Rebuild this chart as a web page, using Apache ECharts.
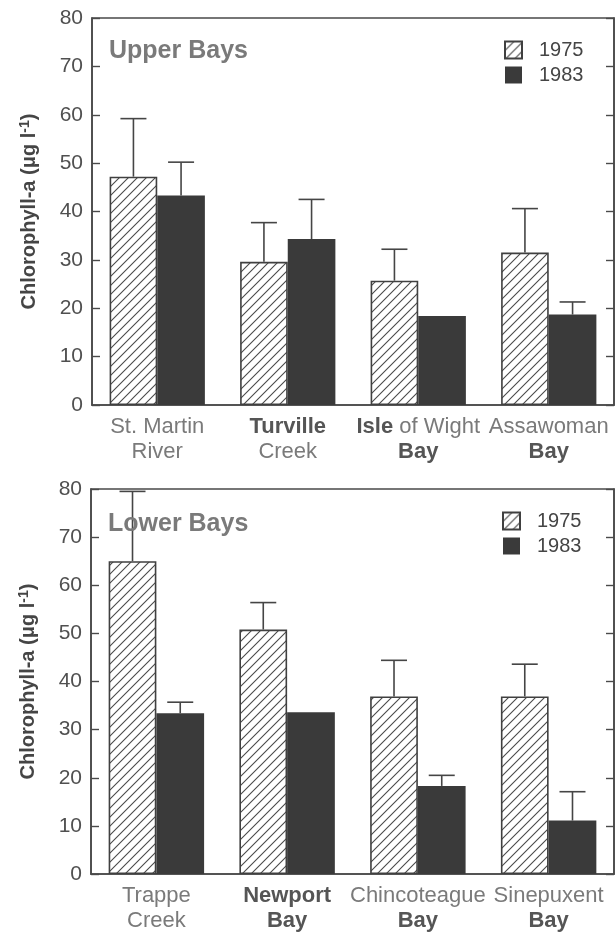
<!DOCTYPE html>
<html>
<head>
<meta charset="utf-8">
<script src="https://cdn.jsdelivr.net/npm/echarts@6/dist/echarts.min.js"></script>
<style>html,body{margin:0;padding:0;background:#fff;}#c{width:615px;height:933px;}</style>
</head>
<body>
<div id="c"></div>
<script>
// ---- data ----
const upperCategories = ['St. Martin\nRiver', 'Turville\nCreek', 'Isle of Wight\nBay', 'Assawoman\nBay'];
const upperBoldWords = ['Turville', 'Isle', 'Bay'];
const upper1975 = [47.2, 29.6, 25.7, 31.5];
const upper1983 = [43.3, 34.3, 18.4, 18.7];
const upper1975ErrTop = [59.2, 37.7, 32.2, 40.6];
const upper1983ErrTop = [50.2, 42.5, null, 21.3];

const lowerCategories = ['Trappe\nCreek', 'Newport\nBay', 'Chincoteague\nBay', 'Sinepuxent\nBay'];
const lowerBoldWords = ['Newport', 'Bay'];
const lower1975 = [65.0, 50.8, 36.9, 36.9];
const lower1983 = [33.4, 33.6, 18.3, 11.1];
const lower1975ErrTop = [79.5, 56.4, 44.4, 43.6];
const lower1983ErrTop = [35.7, null, 20.5, 17.1];

const yTicks = [0, 10, 20, 30, 40, 50, 60, 70, 80];
const seriesNames = ['1975', '1983'];
const panelTitles = ['Upper Bays', 'Lower Bays'];
const yAxisTitle = 'Chlorophyll-a (μg l{sup|-1})';

// ---- styling ----
const FONT = 'Liberation Sans, Arial, Helvetica, sans-serif';
const INK = '#454545';
const DARK = '#3a3a3a';
const CAT_GAP = 0.27;

function hatchPattern() {
  const s = 9;
  const c = document.createElement('canvas');
  c.width = s; c.height = s;
  const ctx = c.getContext('2d');
  ctx.fillStyle = '#ffffff';
  ctx.fillRect(0, 0, s, s);
  ctx.strokeStyle = '#4a4a4a';
  ctx.lineWidth = 1.1;
  ctx.beginPath();
  ctx.moveTo(-1, s + 1); ctx.lineTo(s + 1, -1);
  ctx.moveTo(-3, 3); ctx.lineTo(3, -3);
  ctx.moveTo(s - 3, s + 3); ctx.lineTo(s + 3, s - 3);
  ctx.stroke();
  return c;
}
const hatch = { image: hatchPattern(), repeat: 'repeat' };

function labelFormatter(boldWords) {
  return function (value) {
    return value.split('\n').map(function (line) {
      return line.split(' ').map(function (w) {
        return (boldWords.indexOf(w) >= 0 ? '{b|' : '{n|') + w + '}';
      }).join('{n| }');
    }).join('\n');
  };
}

const grids = [
  { left: 92, top: 18, width: 522, height: 387 },
  { left: 91, top: 489, width: 523, height: 387 }
];

function errorSeries(gridIdx, errTops, sign) {
  return {
    type: 'custom',
    xAxisIndex: gridIdx,
    yAxisIndex: gridIdx * 2,
    silent: true,
    z: 5,
    data: errTops.map(function (v, i) { return [i, v]; }),
    renderItem: function (params, api) {
      const top = api.value(1);
      if (top === null || top === undefined || isNaN(top)) return null;
      const band = api.size([1, 0])[0];
      const barW = band * (1 - CAT_GAP) / 2;
      const base = api.coord([api.value(0), top]);
      const x = base[0] + sign * barW / 2;
      const yTop = base[1];
      const vals = gridIdx === 0 ? (sign < 0 ? upper1975 : upper1983) : (sign < 0 ? lower1975 : lower1983);
      const yBar = api.coord([api.value(0), vals[api.value(0)]])[1];
      const cap = 13;
      const st = { stroke: INK, lineWidth: 1.6 };
      return {
        type: 'group',
        children: [
          { type: 'line', shape: { x1: x, y1: yBar, x2: x, y2: yTop }, style: st },
          { type: 'line', shape: { x1: x - cap, y1: yTop, x2: x + cap, y2: yTop }, style: st }
        ]
      };
    }
  };
}

const option = {
  backgroundColor: '#ffffff',
  animation: false,
  textStyle: { fontFamily: FONT },
  title: [
    { text: panelTitles[0], left: 104, top: 34, textStyle: { fontFamily: FONT, fontSize: 25, fontWeight: 'bold', color: '#7a7a7a' } },
    { text: panelTitles[1], left: 103, top: 507, textStyle: { fontFamily: FONT, fontSize: 25, fontWeight: 'bold', color: '#7a7a7a' } }
  ],
  legend: [
    { data: seriesNames, orient: 'vertical', left: 499, top: 35, icon: 'rect', itemWidth: 17, itemHeight: 17, itemGap: 5,
      textStyle: { fontFamily: FONT, fontSize: 20, color: INK, padding: [0, 0, 0, 12] }, selectedMode: false },
    { data: seriesNames, orient: 'vertical', left: 497, top: 506, icon: 'rect', itemWidth: 17, itemHeight: 17, itemGap: 5,
      textStyle: { fontFamily: FONT, fontSize: 20, color: INK, padding: [0, 0, 0, 12] }, selectedMode: false }
  ],
  grid: grids.map(function (g) {
    return Object.assign({ show: true, borderColor: '#4a4a4a', borderWidth: 1.6, backgroundColor: 'transparent' }, g);
  }),
  xAxis: [0, 1].map(function (gi) {
    return {
      type: 'category', gridIndex: gi,
      data: gi === 0 ? upperCategories : lowerCategories,
      axisLine: { show: true, lineStyle: { color: '#4a4a4a', width: 1.6 } },
      axisTick: { show: false },
      axisLabel: {
        margin: 9, interval: 0, fontSize: 22, lineHeight: 25, color: '#7a7a7a', fontFamily: FONT,
        formatter: labelFormatter(gi === 0 ? upperBoldWords : lowerBoldWords),
        rich: {
          n: { fontFamily: FONT, fontSize: 22, color: '#7a7a7a', lineHeight: 25 },
          b: { fontFamily: FONT, fontSize: 22, color: '#555555', fontWeight: 'bold', lineHeight: 25 }
        }
      }
    };
  }),
  yAxis: [].concat.apply([], [0, 1].map(function (gi) {
    const common = {
      type: 'value', gridIndex: gi,
      min: yTicks[0], max: yTicks[yTicks.length - 1], interval: yTicks[1] - yTicks[0],
      splitLine: { show: false },
      axisLine: { show: true, lineStyle: { color: '#4a4a4a', width: 1.6 } },
      axisTick: { show: true, inside: true, length: 8, lineStyle: { color: '#4a4a4a', width: 1.4 } }
    };
    return [
      Object.assign({}, common, {
        position: 'left',
        name: yAxisTitle, nameLocation: 'middle', nameRotate: 90, nameGap: 51,
        nameTextStyle: {
          fontFamily: FONT, fontSize: 20, fontWeight: 'bold', color: INK,
          rich: { sup: { fontFamily: FONT, fontSize: 14, fontWeight: 'bold', color: INK, verticalAlign: 'top', padding: [0, 0, 9, 0] } }
        },
        axisLabel: { show: true, margin: 9, fontSize: 21, color: '#505050', fontFamily: FONT }
      }),
      Object.assign({}, common, { position: 'right', axisLabel: { show: false } })
    ];
  })),
  series: [
    { name: seriesNames[0], type: 'bar', xAxisIndex: 0, yAxisIndex: 0, data: upper1975, barGap: '0%', barCategoryGap: '27%',
      itemStyle: { color: hatch, borderColor: '#404040', borderWidth: 1.6 } },
    { name: seriesNames[1], type: 'bar', xAxisIndex: 0, yAxisIndex: 0, data: upper1983, barGap: '0%', barCategoryGap: '27%',
      itemStyle: { color: DARK, borderColor: DARK, borderWidth: 0 } },
    { name: seriesNames[0], type: 'bar', xAxisIndex: 1, yAxisIndex: 2, data: lower1975, barGap: '0%', barCategoryGap: '27%',
      itemStyle: { color: hatch, borderColor: '#404040', borderWidth: 1.6 } },
    { name: seriesNames[1], type: 'bar', xAxisIndex: 1, yAxisIndex: 2, data: lower1983, barGap: '0%', barCategoryGap: '27%',
      itemStyle: { color: DARK, borderColor: DARK, borderWidth: 0 } },
    errorSeries(0, upper1975ErrTop, -1),
    errorSeries(0, upper1983ErrTop, 1),
    errorSeries(1, lower1975ErrTop, -1),
    errorSeries(1, lower1983ErrTop, 1)
  ]
};

const chart = echarts.init(document.getElementById('c'), null, { renderer: 'canvas' });
chart.setOption(option);
</script>
</body>
</html>
